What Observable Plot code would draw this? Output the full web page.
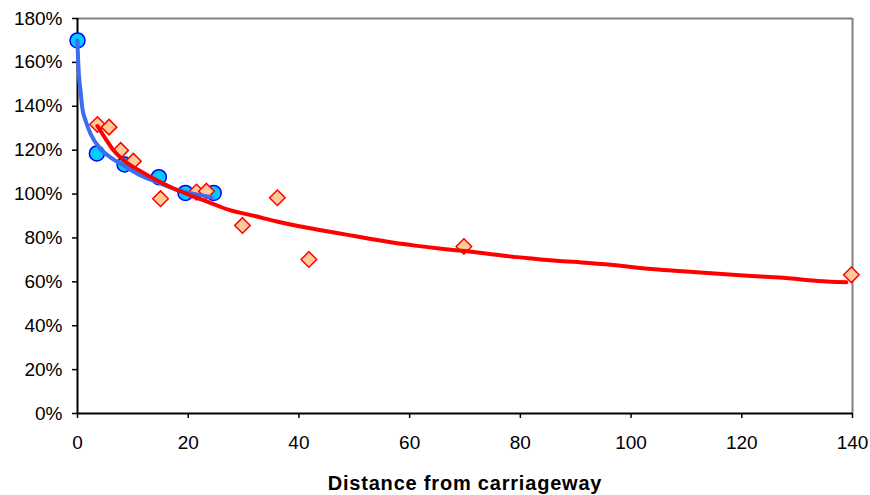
<!DOCTYPE html>
<html><head><meta charset="utf-8">
<script src="https://cdn.jsdelivr.net/npm/d3@7"></script>
<script src="https://cdn.jsdelivr.net/npm/@observablehq/plot@0.6"></script>
<style>
html,body{margin:0;padding:0;background:#fff}
#chart{width:870px;height:495px}
</style>
</head><body><div id="chart"></div>
<script>
// Measured points
const blueX = [0, 3.5, 8.5, 14.7, 19.5, 24.6];
const blueY = [1.70, 1.185, 1.135, 1.077, 1.005, 1.005];
const redX = [3.6, 5.7, 7.8, 10.1, 15.0, 21.5, 23.3, 29.8, 36.1, 41.8, 69.8, 139.8];
const redY = [1.317, 1.305, 1.199, 1.15, 0.979, 1.009, 1.013, 0.857, 0.983, 0.702, 0.761, 0.632];
// Trend lines
const blueLineX = [0, 0.05, 0.24, 0.54, 0.85, 1.45, 2.35, 4.16, 6.28, 8.37, 11.4, 14.4, 17.4, 20.4, 23.5, 24.2];
const blueLineY = [1.70, 1.654, 1.548, 1.472, 1.396, 1.335, 1.275, 1.206, 1.161, 1.13, 1.085, 1.054, 1.024, 1.004, 0.989, 0.985];
const redLineX = [3.6, 5, 6.5, 8.4, 11, 14.4, 17, 20.4, 24, 27.1, 32, 36, 40.3, 44, 48.8, 53, 57.2, 61, 65.7, 70, 74.1, 78, 82.5, 86, 90.4, 96.4, 100, 105.4, 110, 114.5, 119, 123.5, 128, 132.6, 136, 138.9];
const redLineY = [1.31, 1.255, 1.20, 1.153, 1.11, 1.062, 1.03, 0.994, 0.96, 0.93, 0.90, 0.875, 0.852, 0.835, 0.814, 0.795, 0.778, 0.765, 0.751, 0.74, 0.728, 0.716, 0.705, 0.697, 0.69, 0.678, 0.668, 0.655, 0.647, 0.639, 0.631, 0.624, 0.617, 0.606, 0.60, 0.598];
const xTicks = [0, 20, 40, 60, 80, 100, 120, 140];
const yTicks = [0, 0.2, 0.4, 0.6, 0.8, 1.0, 1.2, 1.4, 1.6, 1.8];
const xTitle = "Distance from carriageway";

const zip = (xs, ys) => xs.map((x, i) => ({x, y: ys[i]}));
const blue = zip(blueX, blueY), red = zip(redX, redY);
const blueLine = zip(blueLineX, blueLineY), redLine = zip(redLineX, redLineY);

const chart = Plot.plot({
  width: 870, height: 495,
  marginLeft: 77, marginRight: 18, marginTop: 18, marginBottom: 82,
  style: {fontFamily: "'Liberation Sans', Arial, sans-serif", fontSize: "19px", background: "#fff", color: "#000", overflow: "visible"},
  x: {domain: [0, 140]},
  y: {domain: [0, 1.8]},
  marks: [
    Plot.ruleY([1.8], {stroke: "#808080", strokeWidth: 2}),
    Plot.ruleX([140], {stroke: "#808080", strokeWidth: 2}),
    Plot.axisX({ticks: xTicks, tickSize: 5, tickPadding: 17, label: null, tickFormat: d => String(d), stroke: "#000", strokeWidth: 1.5}),
    Plot.axisY({ticks: yTicks, tickSize: 5, tickPadding: 10, label: null, tickFormat: d => Math.round(d * 100) + "%", stroke: "#000", strokeWidth: 1.5}),
    Plot.ruleX([0], {stroke: "#000", strokeWidth: 2}),
    Plot.ruleY([0], {stroke: "#000", strokeWidth: 2}),
    Plot.dot(blue, {x: "x", y: "y", r: 7.5, fill: "#00ccff", stroke: "#0000ff", strokeWidth: 1.5}),
    Plot.dot(red, {x: "x", y: "y", r: 7, symbol: "diamond2", fill: "#ffcc99", stroke: "#ff0000", strokeWidth: 1.5}),
    Plot.line(blueLine, {x: "x", y: "y", stroke: "#3b6cf2", strokeWidth: 4, curve: "monotone-x"}),
    Plot.line(redLine, {x: "x", y: "y", stroke: "#ff0000", strokeWidth: 4, curve: "monotone-x"}),
    Plot.text([xTitle], {frameAnchor: "bottom", dy: 76, fontSize: 20, fontWeight: "bold", fill: "#000"})
  ]
});
document.getElementById("chart").appendChild(chart);
d3.select(chart).selectAll("g[aria-label='text'] text").style("letter-spacing", "0.8px");
</script>
</body></html>
